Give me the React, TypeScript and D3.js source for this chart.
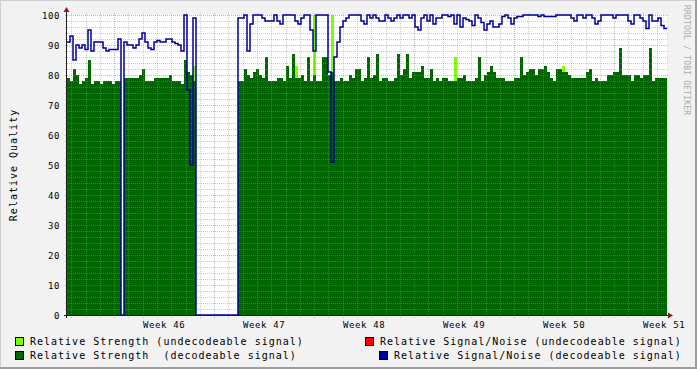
import React, { useRef, useEffect } from 'react';
import * as d3 from 'd3';

// one sample every 5.04 h (200 samples over the six weeks shown)
const strengthDecodeable = [
  79, 78, 82, 80, 77, 78, 79, 85, 77, 78, 78, 77, 78, 78, 78, 77, 78, 78, 0, 79,
  79, 79, 79, 79, 80, 82, 78, 78, 78, 79, 79, 79, 79, 79, 80, 78, 78, 78, 77, 85,
  81, 80, 78, 0, 0, 0, 0, 0, 0, 0, 0, 0, 0, 0, 0, 0, 0, 78, 78, 82,
  80, 79, 81, 82, 80, 79, 86, 78, 78, 78, 79, 79, 78, 83, 79, 87, 79, 79, 80, 78,
  86, 78, 80, 78, 78, 86, 86, 80, 81, 78, 78, 79, 78, 78, 80, 79, 82, 82, 78, 79,
  86, 79, 80, 87, 78, 79, 79, 78, 78, 79, 87, 80, 82, 87, 79, 81, 81, 81, 83, 79,
  79, 82, 78, 79, 78, 79, 79, 78, 78, 78, 79, 79, 80, 78, 78, 78, 79, 86, 78, 80,
  81, 83, 81, 79, 79, 79, 78, 78, 78, 79, 79, 86, 80, 81, 82, 82, 80, 82, 82, 83,
  81, 79, 78, 82, 82, 81, 81, 80, 79, 79, 79, 79, 79, 81, 82, 78, 79, 78, 78, 78,
  80, 80, 81, 81, 89, 80, 80, 80, 78, 80, 80, 79, 80, 80, 89, 78, 79, 79, 79, 79,
];

const strengthUndecodeable = [
  0, 0, 0, 0, 0, 0, 0, 0, 0, 0, 0, 0, 0, 0, 0, 0, 0, 0, 0, 0,
  0, 0, 0, 0, 0, 0, 0, 0, 0, 0, 0, 0, 0, 0, 0, 0, 0, 0, 0, 0,
  0, 0, 83, 0, 0, 0, 0, 0, 0, 0, 0, 0, 0, 0, 0, 0, 0, 0, 0, 0,
  0, 0, 0, 0, 0, 0, 0, 0, 0, 0, 0, 0, 0, 0, 0, 0, 83, 0, 0, 0,
  0, 0, 100, 0, 0, 0, 0, 0, 100, 0, 0, 0, 0, 0, 0, 0, 0, 0, 0, 0,
  0, 0, 0, 0, 0, 0, 0, 0, 0, 0, 0, 0, 0, 0, 0, 0, 0, 0, 0, 0,
  0, 0, 0, 0, 0, 0, 0, 0, 0, 86, 0, 0, 0, 0, 0, 0, 0, 0, 0, 0,
  0, 0, 0, 0, 0, 0, 0, 0, 0, 0, 0, 0, 0, 0, 0, 0, 0, 0, 0, 0,
  0, 0, 0, 0, 0, 83, 0, 0, 0, 0, 0, 0, 0, 0, 0, 0, 0, 0, 0, 0,
  0, 0, 0, 0, 0, 0, 0, 0, 0, 0, 0, 0, 0, 0, 0, 0, 0, 0, 0, 0,
];

const snDecodeable = [
  91, 93, 85, 90, 89, 90, 88.5, 95, 88, 91, 91, 91, 89, 88, 88.5, 88.5, 88.5, 92, 0, 91,
  90, 90, 89, 90, 92, 94, 91, 89, 88.5, 91, 91.5, 91, 91, 92, 92, 91, 90.5, 90, 88, 100,
  75, 50, 99, 0, 0, 0, 0, 0, 0, 0, 0, 0, 0, 0, 0, 0, 0, 99, 99, 100,
  88, 97, 100, 100, 100, 99, 98, 98, 98, 100, 98, 97, 100, 100, 100, 100, 98, 97, 99, 100,
  100, 95, 88, 100, 100, 100, 100, 81, 51, 86, 91, 96, 98, 99, 100, 100, 100, 100, 98, 97,
  100, 99, 100, 99, 98, 98, 100, 99, 98, 99, 100, 99, 100, 100, 99, 100, 96, 95, 99, 100,
  98, 100, 97, 99, 99, 100, 100, 99.5, 100, 97, 100, 96, 99, 98.5, 98, 96.5, 100, 99, 97.5, 95,
  97, 98, 96, 96, 97, 99.5, 100, 99, 97, 99, 99.5, 99.5, 100, 100, 100, 100, 100, 99.5, 100, 99.5,
  99.5, 99.5, 99.5, 100, 100, 100, 100, 100, 99, 98, 100, 100, 99, 100, 100, 99, 97, 98, 100, 100,
  100, 100, 99, 100, 100, 100, 100, 98, 97, 100, 100, 99, 98, 95.5, 100, 98, 98, 99, 96.5, 95.5,
];

const yTicks = [0, 10, 20, 30, 40, 50, 60, 70, 80, 90, 100];
const weekLabels = ['Week 46', 'Week 47', 'Week 48', 'Week 49', 'Week 50', 'Week 51'];

const legendLeft = [
  { label: 'Relative Strength (undecodeable signal)', color: '#80ff00' },
  { label: 'Relative Strength  (decodeable signal)', color: '#006600' },
];
const legendRight = [
  { label: 'Relative Signal/Noise (undecodeable signal)', color: '#ff0000' },
  { label: 'Relative Signal/Noise (decodeable signal)', color: '#000099' },
];

const W = 697;
const H = 369;
const FONT = '"DejaVu Sans Mono", monospace';

const App = () => {
  const ref = useRef<SVGSVGElement>(null);

  useEffect(() => {
    const svg = d3.select(ref.current);
    svg.selectAll('*').remove();

    const margin = { top: 15, left: 67, right: 30, bottom: 54 };
    const x0 = margin.left, x1 = W - margin.right;
    const y0 = H - margin.bottom, y1 = margin.top;

    const start = new Date(2008, 10, 6, 16, 48);
    const end = d3.timeDay.offset(start, 42);
    const step = (end.getTime() - start.getTime()) / strengthDecodeable.length;
    const t = (i: number) => new Date(start.getTime() + i * step);

    const x = d3.scaleTime().domain([start, end]).range([x0, x1]);
    const y = d3.scaleLinear().domain([0, 100]).range([y0, y1]);

    // background + 3d-ish frame
    svg.append('rect').attr('width', W).attr('height', H).attr('fill', '#f2f2f2');
    svg.append('path').attr('d', `M0,${H} V0 H${W}`).attr('stroke', '#cfcfcf').attr('stroke-width', 2).attr('fill', 'none');
    svg.append('path').attr('d', `M0,${H - 1} H${W - 1} V0`).attr('stroke', '#9e9e9e').attr('stroke-width', 2).attr('fill', 'none');
    svg.append('rect').attr('x', x0).attr('y', y1).attr('width', x1 - x0).attr('height', y0 - y1).attr('fill', '#fff');

    // samples as points, last one held till the end of the range
    const pts = (arr: number[]) => {
      const p = arr.map((v, i) => [t(i), v] as [Date, number]);
      p.push([end, arr[arr.length - 1]]);
      return p;
    };

    const area = d3.area<[Date, number]>()
      .x(d => x(d[0]))
      .y0(y(0))
      .y1(d => y(d[1]))
      .curve(d3.curveStepAfter);

    svg.append('path').attr('d', area(pts(strengthUndecodeable))).attr('fill', '#80ff00');
    svg.append('path').attr('d', area(pts(strengthDecodeable))).attr('fill', '#006600');

    // grid (drawn over the areas, like rrdtool)
    const grid = svg.append('g').attr('shape-rendering', 'crispEdges').attr('stroke-dasharray', '1,1');
    const mondays = d3.timeMonday.range(start, end);
    const days = d3.timeDay.range(start, end).filter(d => d.getDay() !== 1);

    d3.range(0, 101, 2).filter(v => v % 10 !== 0).forEach(v => {
      grid.append('line').attr('x1', x0 - 2).attr('x2', x1 + 2)
        .attr('y1', y(v) + 0.5).attr('y2', y(v) + 0.5)
        .attr('stroke', 'rgba(143,143,143,0.45)');
    });
    days.forEach(d => {
      grid.append('line').attr('x1', Math.round(x(d)) + 0.5).attr('x2', Math.round(x(d)) + 0.5)
        .attr('y1', y1 - 2).attr('y2', y0 + 3)
        .attr('stroke', 'rgba(143,143,143,0.45)');
    });
    yTicks.forEach(v => {
      grid.append('line').attr('x1', x0 - 2).attr('x2', x1 + 2)
        .attr('y1', y(v) + 0.5).attr('y2', y(v) + 0.5)
        .attr('stroke', 'rgba(222,79,79,0.5)');
    });
    mondays.forEach(d => {
      grid.append('line').attr('x1', Math.round(x(d)) + 0.5).attr('x2', Math.round(x(d)) + 0.5)
        .attr('y1', y1 - 2).attr('y2', y0 + 3)
        .attr('stroke', 'rgba(222,79,79,0.5)');
    });

    // S/N line
    const line = d3.line<[Date, number]>()
      .x(d => x(d[0]))
      .y(d => y(d[1]))
      .curve(d3.curveStepAfter);
    svg.append('path').attr('d', line(pts(snDecodeable)))
      .attr('fill', 'none').attr('stroke', '#000099').attr('stroke-width', 1.5);

    // axes + arrows
    svg.append('line').attr('x1', x0 - 3).attr('x2', x1 + 4).attr('y1', y0 + 0.5).attr('y2', y0 + 0.5)
      .attr('stroke', '#1f1f1f').attr('shape-rendering', 'crispEdges');
    svg.append('line').attr('x1', x0 - 0.5).attr('x2', x0 - 0.5).attr('y1', y0 + 3).attr('y2', y1 - 4)
      .attr('stroke', '#1f1f1f').attr('shape-rendering', 'crispEdges');
    svg.append('path').attr('d', `M${x1 + 1},${y0 - 2.5} L${x1 + 6},${y0 + 0.5} L${x1 + 1},${y0 + 3.5} Z`).attr('fill', '#7f1f1f');
    svg.append('path').attr('d', `M${x0 - 3.5},${y1 - 3} L${x0 - 0.5},${y1 - 8} L${x0 + 2.5},${y1 - 3} Z`).attr('fill', '#7f1f1f');

    // y labels
    svg.append('g').selectAll('text').data(yTicks).enter().append('text')
      .attr('x', 60).attr('y', d => y(d) + 3.5)
      .attr('text-anchor', 'end')
      .style('font-family', FONT).style('font-size', '9px').style('letter-spacing', '0.6px')
      .text(d => d);

    // week labels, centred mid-week
    svg.append('g').selectAll('text').data(mondays).enter().append('text')
      .attr('x', d => x(d3.timeHour.offset(d, 84)))
      .attr('y', 327.5)
      .attr('text-anchor', 'middle')
      .style('font-family', FONT).style('font-size', '9px').style('letter-spacing', '0.6px')
      .text((d, i) => weekLabels[i]);

    // y axis title
    svg.append('text')
      .attr('transform', `translate(16.5,${(y0 + y1) / 2}) rotate(-90)`)
      .attr('text-anchor', 'middle')
      .style('font-family', FONT).style('font-size', '10px').style('letter-spacing', '1px')
      .text('Relative Quality');

    // watermark
    svg.append('text')
      .attr('transform', 'translate(683.5,5) rotate(90)')
      .attr('fill', '#acacac')
      .style('font-family', FONT).style('font-size', '8px').style('letter-spacing', '0.2px')
      .text('RRDTOOL / TOBI OETIKER');

    // legend (keep the double space in the second label)
    const leg = svg.append('g')
      .style('font-family', FONT).style('font-size', '10px').style('letter-spacing', '1px')
      .style('white-space', 'pre');
    const addItem = (sx: number, sy: number, item: { label: string, color: string }) => {
      leg.append('rect').attr('x', sx + 0.5).attr('y', sy + 0.5).attr('width', 8).attr('height', 8)
        .attr('fill', item.color).attr('stroke', '#000');
      leg.append('text').attr('x', sx + 15).attr('y', sy + 7.5)
        .attr('xml:space', 'preserve')
        .text(item.label);
    };
    addItem(15, 337, legendLeft[0]);
    addItem(15, 351, legendLeft[1]);
    addItem(365, 337, legendRight[0]);
    addItem(379, 351, legendRight[1]);
  }, []);

  return <svg ref={ref} width={W} height={H} style={{ position: 'absolute', left: 0, top: 0 }} />;
};

export default App;
